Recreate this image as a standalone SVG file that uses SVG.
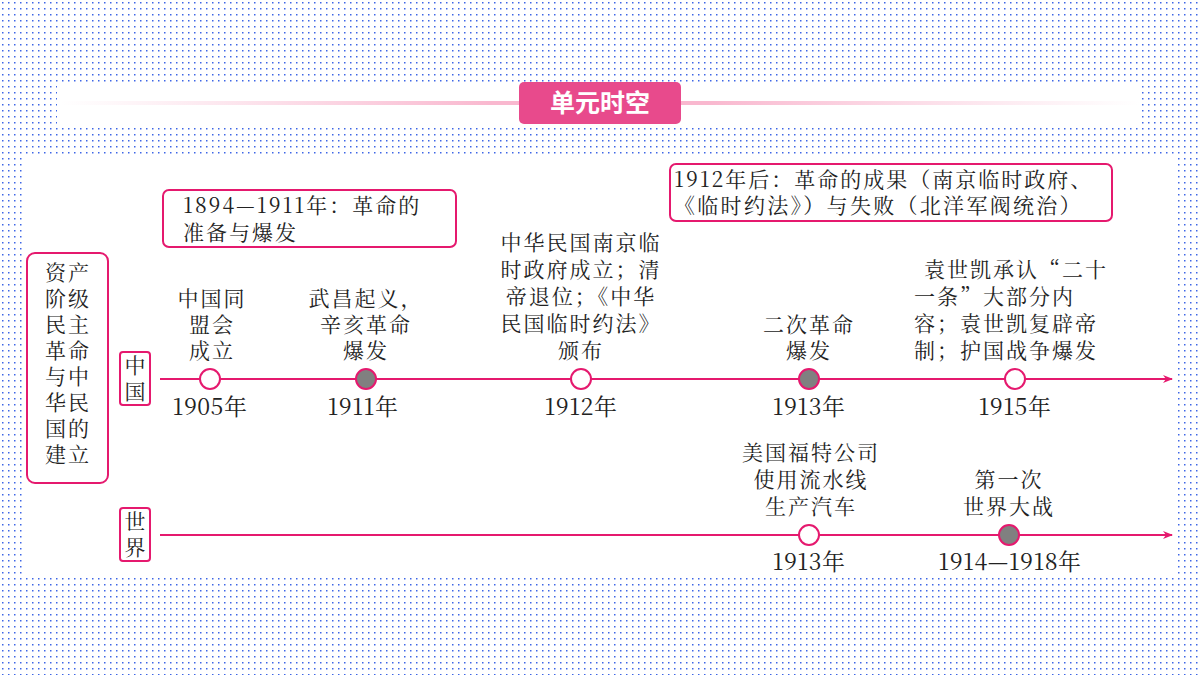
<svg xmlns="http://www.w3.org/2000/svg" width="1200" height="675" viewBox="0 0 1200 675">
<defs>
<pattern id="dots" width="6" height="6" patternUnits="userSpaceOnUse"><rect x="2" y="2" width="1.5" height="1.5" fill="#3d66e6"/></pattern>
<linearGradient id="lg" x1="0" x2="1" y1="0" y2="0">
<stop offset="0" stop-color="#f9c3d7" stop-opacity="0"/><stop offset="0.4" stop-color="#f9b8cf"/><stop offset="0.6" stop-color="#f9b8cf"/><stop offset="1" stop-color="#f9c3d7" stop-opacity="0"/></linearGradient>
<marker id="arr" viewBox="0 0 10 10" refX="9" refY="5" markerWidth="10" markerHeight="10" markerUnits="userSpaceOnUse" orient="auto"><path d="M0,1 L10,5 L0,9 L3,5 Z" fill="#e5196e"/></marker>
</defs>
<style>
.t{font-family:"Noto Serif CJK SC","Liberation Serif","Noto Sans CJK SC",serif;font-size:21px;fill:#222;letter-spacing:2px}
.y{font-size:23px;letter-spacing:0.5px}
.c{text-anchor:middle}
.box{fill:#fff;stroke:#e5196e;stroke-width:2}
.ln{stroke:#e5196e;stroke-width:2;fill:none}
.o{fill:#fff;stroke:#e5196e;stroke-width:2}
.f{fill:#808080;stroke:#e5196e;stroke-width:2}
</style>
<rect width="1200" height="675" fill="#fff"/>
<rect width="1200" height="675" fill="url(#dots)"/>
<rect x="57" y="82" width="1083" height="43" fill="#fff"/>
<rect x="25" y="158" width="1150" height="417" fill="#fff"/>
<rect x="60" y="101" width="1080" height="4" fill="url(#lg)"/>
<g id="title"><rect x="519" y="82" width="162" height="42" rx="5" fill="#e84a8c"/><text x="600" y="112" text-anchor="middle" font-family="'Noto Sans CJK SC',sans-serif" font-weight="bold" font-size="25" fill="#fff">单元时空</text></g>

<g id="connectors">
<line class="ln" x1="160" y1="379" x2="1172" y2="379" marker-end="url(#arr)"/>
<line class="ln" x1="160" y1="535" x2="1172" y2="535" marker-end="url(#arr)"/>
</g>

<g id="side"><rect class="box" x="27" y="253" width="81" height="230" rx="8"/>
<text class="t c" x="68" y="280">资产</text><text class="t c" x="68" y="306">阶级</text><text class="t c" x="68" y="332">民主</text><text class="t c" x="68" y="358">革命</text><text class="t c" x="68" y="384">与中</text><text class="t c" x="68" y="410">华民</text><text class="t c" x="68" y="436">国的</text><text class="t c" x="68" y="462">建立</text></g>
<g id="cn"><rect class="box" x="120" y="352" width="30" height="53" rx="3"/><text class="t c" x="135" y="373" style="letter-spacing:0">中</text><text class="t c" x="135" y="399" style="letter-spacing:0">国</text></g>
<g id="world"><rect class="box" x="120" y="508" width="30" height="53" rx="3"/><text class="t c" x="135" y="529" style="letter-spacing:0">世</text><text class="t c" x="135" y="555" style="letter-spacing:0">界</text></g>

<g id="note1"><rect class="box" x="163" y="190" width="293" height="57" rx="6"/><text class="t" x="183" y="213">1894—1911年：革命的</text><text class="t" x="183" y="240">准备与爆发</text></g>
<g id="note2"><rect class="box" x="670" y="164" width="442" height="57" rx="6"/><text class="t" x="674" y="187" style="letter-spacing:2px">1912年后：革命的成果（南京临时政府、</text><text class="t" x="674" y="213" style="letter-spacing:2.3px">《临时约法》）与失败（北洋军阀统治）</text></g>

<g id="e1905"><circle class="o" cx="210" cy="379" r="10"/><text class="t c" x="212" y="306">中国同</text><text class="t c" x="212" y="332">盟会</text><text class="t c" x="212" y="358">成立</text><text class="t c y" x="210" y="415">1905年</text></g>
<g id="e1911"><circle class="f" cx="366" cy="379" r="10"/><text class="t c" x="366" y="306">武昌起义，</text><text class="t c" x="366" y="332">辛亥革命</text><text class="t c" x="366" y="358">爆发</text><text class="t c y" x="363" y="415">1911年</text></g>
<g id="e1912"><circle class="o" cx="581" cy="379" r="10"/><text class="t c" x="581" y="250">中华民国南京临</text><text class="t c" x="581" y="277">时政府成立；清</text><text class="t c" x="581" y="304">帝退位；《中华</text><text class="t c" x="581" y="331">民国临时约法》</text><text class="t c" x="581" y="358">颁布</text><text class="t c y" x="581" y="415">1912年</text></g>
<g id="e1913"><circle class="f" cx="809" cy="379" r="10"/><text class="t c" x="809" y="332">二次革命</text><text class="t c" x="809" y="358">爆发</text><text class="t c y" x="809" y="415">1913年</text></g>
<g id="e1915"><circle class="o" cx="1015" cy="379" r="10"/><text class="t c" x="1016" y="277">袁世凯承认“二十</text><text class="t" x="914" y="304">一条”大部分内</text><text class="t" x="914" y="331">容；袁世凯复辟帝</text><text class="t" x="914" y="358">制；护国战争爆发</text><text class="t c y" x="1015" y="415">1915年</text></g>
<g id="w1913"><circle class="o" cx="809" cy="535" r="10"/><text class="t c" x="811" y="460">美国福特公司</text><text class="t c" x="811" y="487">使用流水线</text><text class="t c" x="811" y="514">生产汽车</text><text class="t c y" x="809" y="570">1913年</text></g>
<g id="w1914"><circle class="f" cx="1009" cy="535" r="10"/><text class="t c" x="1009" y="487">第一次</text><text class="t c" x="1009" y="514">世界大战</text><text class="t c y" x="1010" y="570">1914—1918年</text></g>
</svg>
